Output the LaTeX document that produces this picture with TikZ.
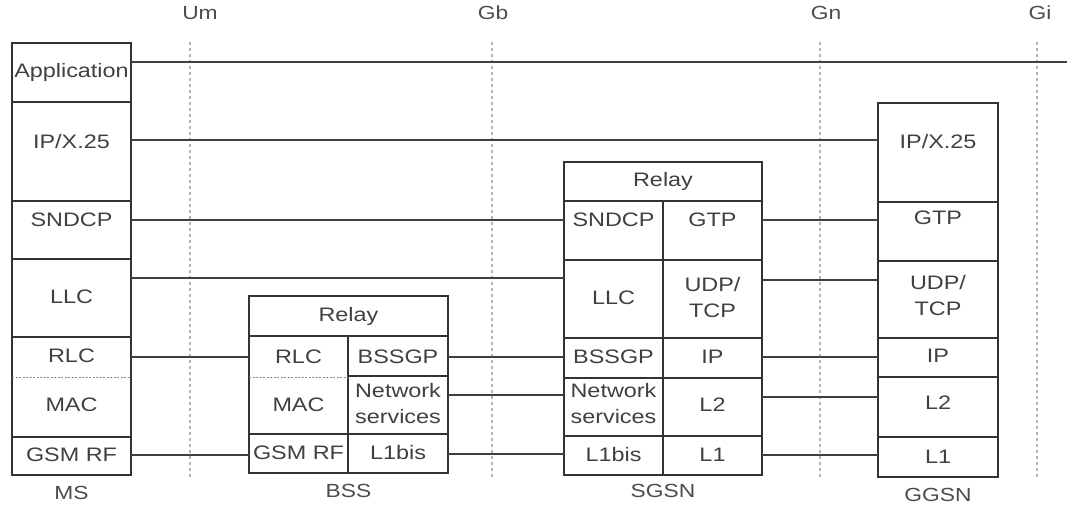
\documentclass[tikz,border=0pt]{standalone}
\usepackage{fontspec}
\setmainfont{Liberation Sans}[FakeStretch=1.2]
\begin{document}
\begin{tikzpicture}[x=1pt,y=-1pt,
  box/.style={draw=black!80, line width=1.6pt, inner sep=0pt, outer sep=0pt, anchor=north west},
  sub/.style={inner sep=0pt, outer sep=0pt, anchor=north west},
  txt/.style={text=black!75, font=\fontsize{19.5}{26}\selectfont, inner sep=0pt, align=center},
  lbl/.style={text=black!70, font=\fontsize{19}{22}\selectfont, inner sep=0pt},
  conn/.style={draw=black!75, line width=1.3pt},
  iface/.style={draw=black!30, line width=1.2pt, dash pattern=on 3pt off 3pt},
  sep/.style={draw=black!45, line width=1pt, dash pattern=on 2pt off 1.5pt}]
\newcommand\Cell[6][box]{\node[#1, minimum width={(#5-#3)*1pt}, minimum height={(#6-#4)*1pt}] (#2) at (#3,#4) {};}
\useasboundingbox (0,0) rectangle (1067,504);

% interfaces
\node[lbl] (um) at (200,13) {Um};
\node[lbl] (gb) at (493,13) {Gb};
\node[lbl] (gn) at (826,13) {Gn};
\node[lbl] (gi) at (1040,13) {Gi};
\coordinate (um1) at (190,42); \coordinate (um2) at (190,478);
\coordinate (gb1) at (492,42); \coordinate (gb2) at (492,478);
\coordinate (gn1) at (820,42); \coordinate (gn2) at (820,478);
\coordinate (gi1) at (1037,42); \coordinate (gi2) at (1037,478);
\draw[iface] (um1) -- (um2);
\draw[iface] (gb1) -- (gb2);
\draw[iface] (gn1) -- (gn2);
\draw[iface] (gi1) -- (gi2);

% MS
\Cell{msApp}{12}{43}{131}{102}
\Cell{msIP}{12}{102}{131}{201}
\Cell{msSN}{12}{201}{131}{259}
\Cell{msLLC}{12}{259}{131}{337}
\Cell{msRM}{12}{337}{131}{437}
\Cell[sub]{msRLC}{12}{337}{131}{377}
\Cell[sub]{msMAC}{12}{377}{131}{437}
\Cell{msRF}{12}{437}{131}{475}
\draw[sep] (msRLC.south west) -- (msRLC.south east);
\node[txt] (tmsApp) at (71.5,72) {Application};
\node[txt] (tmsIP) at (71.5,142) {IP/X.25};
\node[txt] (tmsSN) at (71.5,220) {SNDCP};
\node[txt] (tmsLLC) at (71.5,297) {LLC};
\node[txt] (tmsRLC) at (71.5,356) {RLC};
\node[txt] (tmsMAC) at (71.5,405) {MAC};
\node[txt] (tmsRF) at (71.5,455) {GSM RF};
\node[lbl] (lms) at (71.5,493) {MS};

% BSS
\Cell{bsRelay}{249}{296}{448}{336}
\Cell{bsRM}{249}{336}{348}{434}
\Cell[sub]{bsRLC}{249}{336}{348}{377}
\Cell[sub]{bsMAC}{249}{377}{348}{434}
\Cell{bsRF}{249}{434}{348}{473}
\Cell{bsBSSGP}{348}{336}{448}{376}
\Cell{bsNS}{348}{376}{448}{434}
\Cell{bsL1}{348}{434}{448}{473}
\draw[sep] (bsRLC.south west) -- (bsRLC.south east);
\node[txt] (tbsRelay) at (348.5,316) {Relay};
\node[txt] (tbsRLC) at (298.5,357) {RLC};
\node[txt] (tbsMAC) at (298.5,405) {MAC};
\node[txt] (tbsRF) at (298.5,453) {GSM RF};
\node[txt] (tbsBSSGP) at (398,357) {BSSGP};
\node[txt] (tbsNS) at (398,404) {Network\\services};
\node[txt] (tbsL1) at (398,453) {L1bis};
\node[lbl] (lbs) at (348.5,491) {BSS};

% SGSN
\Cell{sgRelay}{564}{162}{762}{201}
\Cell{sgSN}{564}{201}{663}{260}
\Cell{sgGTP}{663}{201}{762}{260}
\Cell{sgLLC}{564}{260}{663}{338}
\Cell{sgUDP}{663}{260}{762}{338}
\Cell{sgBSSGP}{564}{338}{663}{378}
\Cell{sgIP}{663}{338}{762}{378}
\Cell{sgNS}{564}{378}{663}{436}
\Cell{sgL2}{663}{378}{762}{436}
\Cell{sgL1b}{564}{436}{663}{475}
\Cell{sgL1}{663}{436}{762}{475}
\node[txt] (tsgRelay) at (663,181) {Relay};
\node[txt] (tsgSN) at (613.5,220) {SNDCP};
\node[txt] (tsgGTP) at (712.5,220) {GTP};
\node[txt] (tsgLLC) at (613.5,298) {LLC};
\node[txt] (tsgUDP) at (712.5,298) {UDP/\\TCP};
\node[txt] (tsgBSSGP) at (613.5,357) {BSSGP};
\node[txt] (tsgIP) at (712.5,357) {IP};
\node[txt] (tsgNS) at (613.5,404) {Network\\services};
\node[txt] (tsgL2) at (712.5,405) {L2};
\node[txt] (tsgL1b) at (613.5,455) {L1bis};
\node[txt] (tsgL1) at (712.5,455) {L1};
\node[lbl] (lsg) at (663,491) {SGSN};

% GGSN
\Cell{ggIP}{878}{103}{998}{202}
\Cell{ggGTP}{878}{202}{998}{261}
\Cell{ggUDP}{878}{261}{998}{338}
\Cell{ggIPl}{878}{338}{998}{377}
\Cell{ggL2}{878}{377}{998}{437}
\Cell{ggL1}{878}{437}{998}{477}
\node[txt] (tggIP) at (938,142) {IP/X.25};
\node[txt] (tggGTP) at (938,218) {GTP};
\node[txt] (tggUDP) at (938,296) {UDP/\\TCP};
\node[txt] (tggIPl) at (938,356) {IP};
\node[txt] (tggL2) at (938,403) {L2};
\node[txt] (tggL1) at (938,457) {L1};
\node[lbl] (lgg) at (938,495) {GGSN};

% connector levels
\coordinate (lvApp) at (0,62);
\coordinate (lvIP) at (0,140);
\coordinate (lvSN) at (0,220);
\coordinate (lvLLC) at (0,278);
\coordinate (lvUDP) at (0,280);
\coordinate (lvRLC) at (0,357);
\coordinate (lvNS) at (0,395);
\coordinate (lvL2) at (0,397);
\coordinate (lvRF) at (0,455);
\coordinate (lvL1b) at (0,454);
\coordinate (appEnd) at (1067,62);

\draw[conn] (msApp.east |- lvApp) -- (appEnd);
\draw[conn] (msIP.east |- lvIP) -- (ggIP.west |- lvIP);
\draw[conn] (msSN.east |- lvSN) -- (sgSN.west |- lvSN);
\draw[conn] (sgGTP.east |- lvSN) -- (ggGTP.west |- lvSN);
\draw[conn] (msLLC.east |- lvLLC) -- (sgLLC.west |- lvLLC);
\draw[conn] (sgUDP.east |- lvUDP) -- (ggUDP.west |- lvUDP);
\draw[conn] (msRLC.east |- lvRLC) -- (bsRLC.west |- lvRLC);
\draw[conn] (bsBSSGP.east |- lvRLC) -- (sgBSSGP.west |- lvRLC);
\draw[conn] (sgIP.east |- lvRLC) -- (ggIPl.west |- lvRLC);
\draw[conn] (bsNS.east |- lvNS) -- (sgNS.west |- lvNS);
\draw[conn] (sgL2.east |- lvL2) -- (ggL2.west |- lvL2);
\draw[conn] (msRF.east |- lvRF) -- (bsRF.west |- lvRF);
\draw[conn] (bsL1.east |- lvL1b) -- (sgL1b.west |- lvL1b);
\draw[conn] (sgL1.east |- lvRF) -- (ggL1.west |- lvRF);
\end{tikzpicture}
\end{document}
